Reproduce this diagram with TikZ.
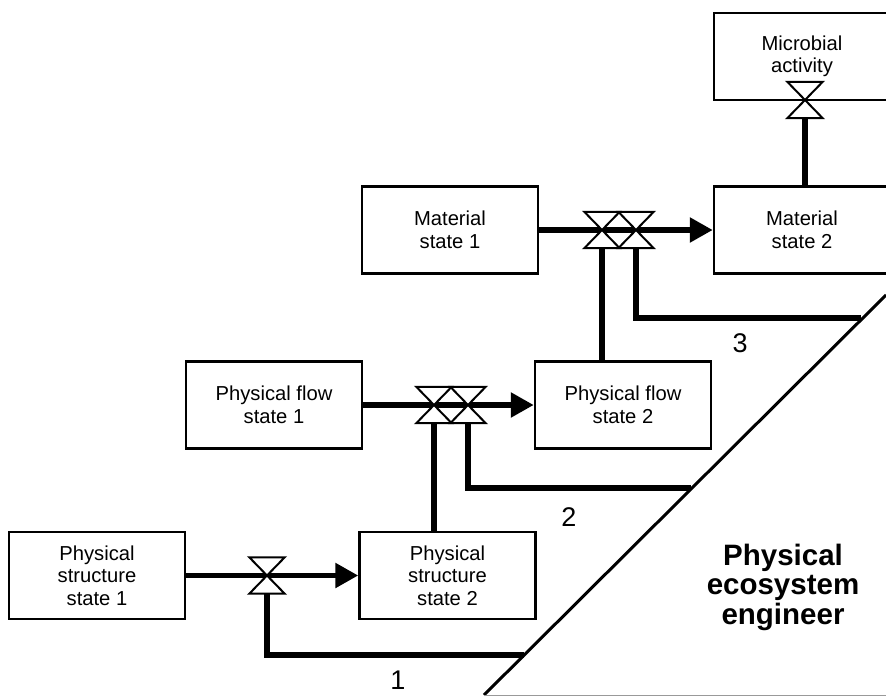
\documentclass[tikz,border=0pt]{standalone}
\usepackage{fontspec}
\setmainfont{Liberation Sans}
\usetikzlibrary{arrows.meta}

\begin{document}
\begin{tikzpicture}[x=1pt,y=-1pt,
  state/.style={draw, line width=2.5pt, minimum width=176pt, minimum height=87pt,
    inner sep=0pt, align=center, font=\fontsize{20.2}{22.5}\selectfont},
  flow/.style={line width=5.5pt},
  push/.style={flow, -{Triangle[length=23pt,width=24pt]}},
  valve/.style={minimum width=35pt, minimum height=36pt, inner sep=0pt},
  num/.style={font=\fontsize{27}{27}\selectfont}]
\useasboundingbox (0,0) rectangle (886,696);

% states %
\node[state] (s1) at (97,575.5) {Physical\\structure\\state 1};
\node[state] (s2) at (447.5,575.5) {Physical\\structure\\state 2};
\node[state] (f1) at (274,405) {Physical flow\\state 1};
\node[state] (f2) at (623,405) {Physical flow\\state 2};
\node[state] (m1) at (450,230) {Material\\state 1};
\node[state] (m2) at (802,230) {Material\\state 2};
\node[state] (mb) at (802,56.5) {Microbial\\activity};

% engineer triangle %
\coordinate (tb) at (484,695);
\coordinate (tt) at (886,295);
\draw[line width=3pt] (tb) -- (tt);
\draw[black!40, line width=1pt] (tb) -- (886,695);
\node[font=\fontsize{29.5}{29.5}\selectfont\bfseries, align=center] (eng) at (783,587)
  {Physical\\ecosystem\\engineer};

% valves %
\node[valve] (va) at (267,575.5) {};
\node[valve] (vb1) at (434,405) {};
\node[valve] (vb2) at (468,405) {};
\node[valve] (vc1) at (602,230) {};
\node[valve] (vc2) at (636,230) {};
\node[valve] (vd) at (805,100) {};

% where the engineer acts %
\coordinate (e1) at (524,655);
\coordinate (e2) at (691,488);
\coordinate (e3) at (861,318);

% flows between states %
\draw[push] (s1.east) -- (s2.west);
\draw[push] (f1.east) -- (f2.west);
\draw[push] (m1.east) -- (m2.west);

% controls %
\draw[flow] (vb1.south) -- (vb1.south |- s2.north);
\draw[flow] (vc1.south) -- (vc1.south |- f2.north);
\draw[flow] (vd.south) -- (vd.south |- m2.north);
\draw[flow] (va.south) |- (e1);
\draw[flow] (vb2.south) |- (e2);
\draw[flow] (vc2.south) |- (e3);

\foreach \v in {va,vb1,vb2,vc1,vc2,vd}
  \draw[line width=2pt, fill=white] (\v.north west) -- (\v.north east)
    -- (\v.south west) -- (\v.south east) -- cycle;

\node[num] (n1) at (398,680) {1};
\node[num] (n2) at (569,517) {2};
\node[num] (n3) at (740,343) {3};
\end{tikzpicture}
\end{document}
